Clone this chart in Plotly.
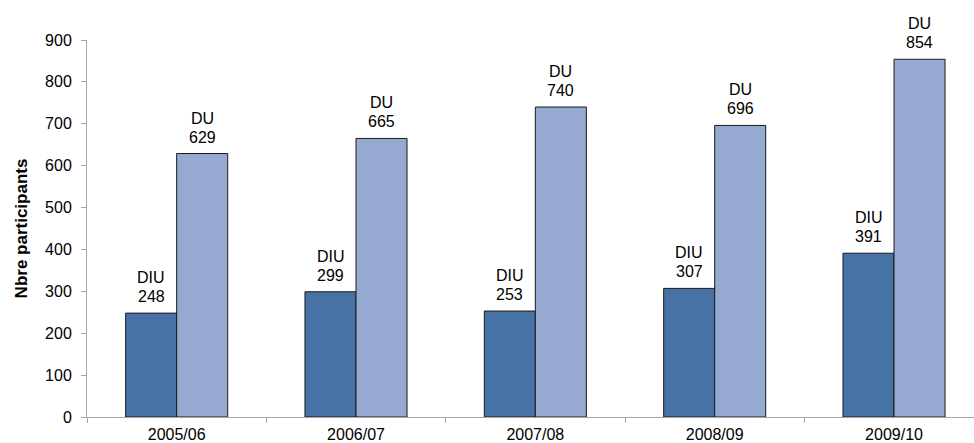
import plotly.graph_objects as go

years = ["2005/06", "2006/07", "2007/08", "2008/09", "2009/10"]
diu = [248, 299, 253, 307, 391]
du = [629, 665, 740, 696, 854]
series_names = ["DIU", "DU"]
y_ticks = [0, 100, 200, 300, 400, 500, 600, 700, 800, 900]

font_family = "Liberation Sans, Arial, sans-serif"
colors = ["#4672A6", "#95A9D1"]

fig = go.Figure()
for name, vals, col in zip(series_names, [diu, du], colors):
    fig.add_trace(go.Bar(
        x=years, y=vals, name=name,
        marker=dict(color=col, line=dict(color="#1a1a1a", width=1)),
        cliponaxis=False,
    ))

# labels above bars (two lines)
bar_offset = 25.5
for i, (name, vals) in enumerate(zip(series_names, [diu, du])):
    shift = -bar_offset if i == 0 else bar_offset
    for yr, v in zip(years, vals):
        fig.add_annotation(x=yr, y=v, xref="x", yref="y", text=str(v),
                           showarrow=False, xshift=shift, yshift=6,
                           yanchor="bottom", xanchor="center",
                           font=dict(size=16, color="#000000", family=font_family))
        fig.add_annotation(x=yr, y=v, xref="x", yref="y", text=name,
                           showarrow=False, xshift=shift, yshift=25,
                           yanchor="bottom", xanchor="center",
                           font=dict(size=16, color="#000000", family=font_family))

fig.update_layout(
    width=974, height=443,
    margin=dict(l=87, r=0, t=40, b=26),
    paper_bgcolor="white", plot_bgcolor="white",
    barmode="group", bargap=0.431, bargroupgap=0,
    showlegend=False,
    font=dict(family=font_family, size=16, color="#000000"),
    xaxis=dict(
        range=[-0.5, 4.446],
        showline=True, linecolor="#a6a6a6", linewidth=1,
        ticks="outside", tickson="boundaries", ticklen=5, tickcolor="#a6a6a6",
        tickfont=dict(size=16), showgrid=False, ticklabelstandoff=3,
    ),
    yaxis=dict(
        range=[0, 900], tickvals=y_ticks,
        showline=True, linecolor="#a6a6a6", linewidth=1,
        ticks="outside", ticklen=5, tickcolor="#a6a6a6",
        tickfont=dict(size=16), showgrid=False, zeroline=False,
        ticklabelstandoff=6,
        title=dict(text="<b>Nbre participants</b>", font=dict(size=17), standoff=13),
    ),
)

fig.write_html("out.html", config={"displayModeBar": False},
               post_script="document.body.style.margin='0';")
